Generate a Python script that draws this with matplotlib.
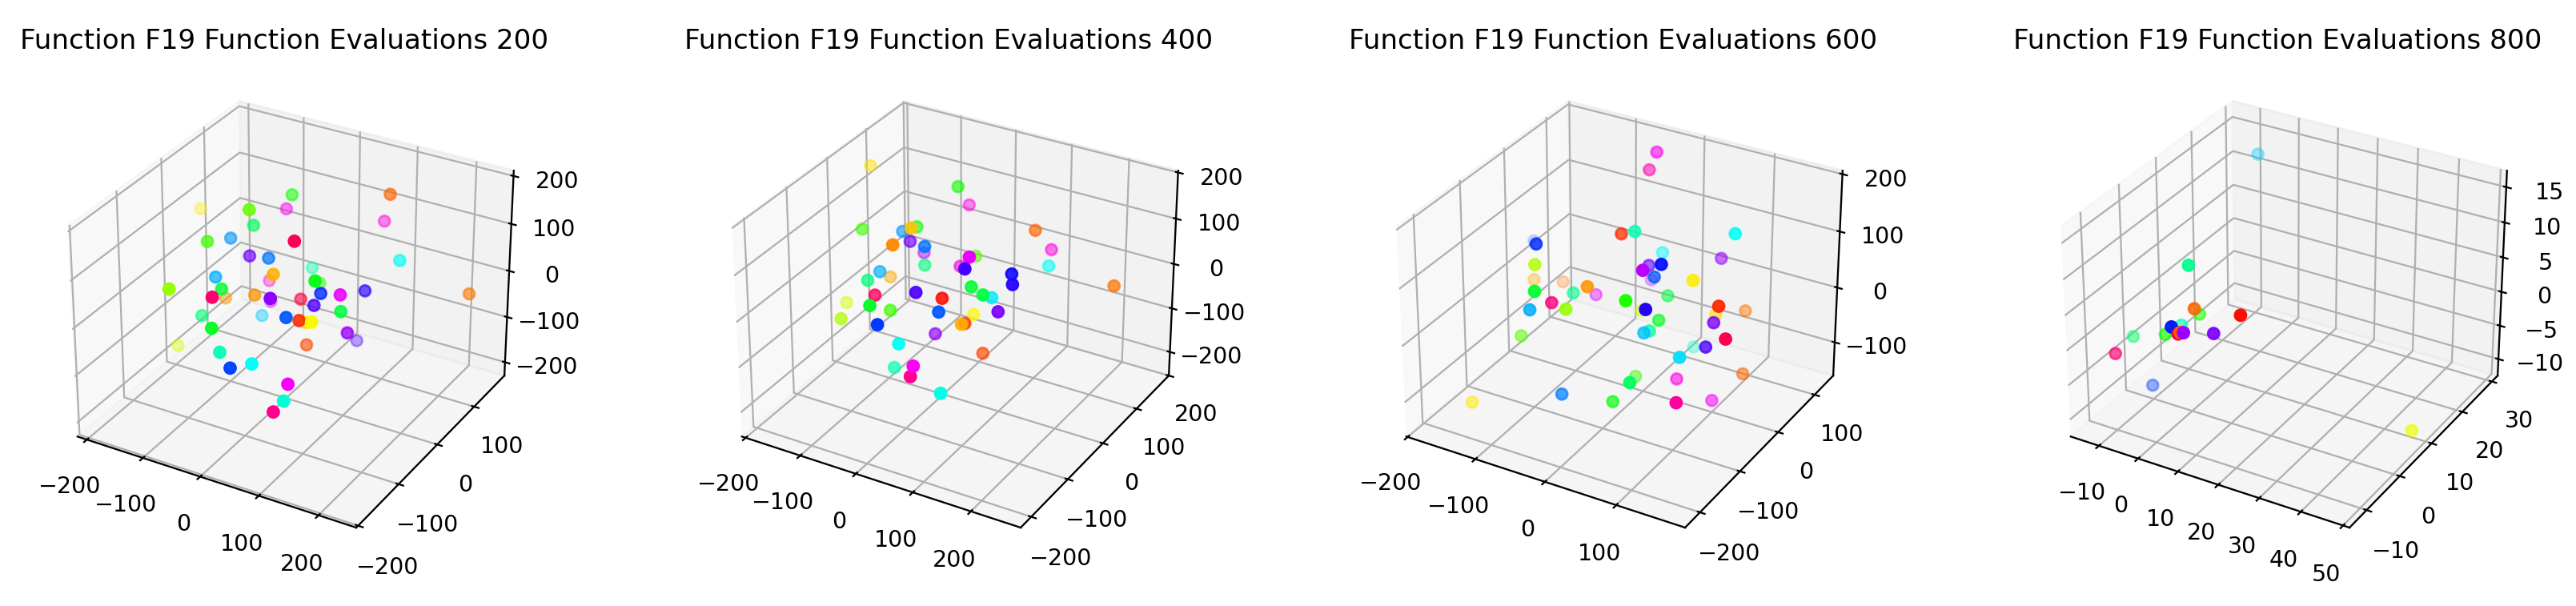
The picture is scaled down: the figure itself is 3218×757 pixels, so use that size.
import numpy as np
import matplotlib
matplotlib.use("Agg")
import matplotlib.pyplot as plt

WIDTH, HEIGHT, DPI = 3218, 757, 205

EVALUATIONS = [200, 400, 600, 800]

x_200 = [-177, -43, -53, -63, 107, 98, -60, -90, -76, 88, -37, 11, 183, -1, 71, -84, 152, 36, -39, -46, -13, 26, -102, 14, 121, -80, 52, 137, 183, 161, 234, 133, 195, -64,
         -88, 8, 127, 129, 103, 187, 189, 82, 81, -151, 24, 54, 90, 149, 142, 125]
y_200 = [37, -27, 90, 90, 104, 104, 6, -8, -80, -103, -35, -56, 14, 67, -128, 76, -146, 33, -111, -204, -132, -204, -6, -93, -204, 74, -37, -111, -132, -39, 121, -121, -148,
         30, -80, -183, -177, -150, -97, -204, -123, 61, -64, -56, -187, -204, -204, -204, -204, -204]
z_200 = [92, 178, 125, 92, 168, 109, 117, 90, 139, 211, 90, 117, 120, 3, 157, -60, 185, 8, 101, 143, 101, 152, -43, 69, 183, -103, 32, 129, 158, 89, -11, 111, 141, -95, -20,
         67, 127, 101, 47, 160, 77, -121, -33, -126, 27, 19, 41, 22, -15, -44]
hue_200 = [.16, .27, .33, .85, .07, .87, .4, .58, .3, .96, .75, .6, .5, .45, .12, .88, .35, .3, .56, .24, .37, .94, .1, .1, .77, .82, .97, .65, .83, .7, .08, .73, .38, .54,
           .42, .36, .62, .03, .15, .17, .78, .72, .05, .2, .46, .63, .5, .84, .48, .92]
alpha_200 = [.5, .9, .65, .6, .75, .6, .75, .7, .8, 1, .75, .8, .75, .55, .9, .5, .95, .6, .8, 1, .85, 1, .6, .8, 1, .5, .7, .85, .9, .75, .7, .85, .9, .55,
             .7, .95, .95, .9, .8, 1, .85, .5, .7, .55, .95, 1, 1, 1, 1, 1]

x_400 = [-175, -34, -21, -109, -61, -7, -78, 134, 11, -43, 19, -63, 152, 55, 142, 172, -16, 40, 153, -42, -88, -38, 187, 218, 254, 150, 88, -12, 194, 170, 111, -122, 14, -11,
         126, 105, 224, -73, 43, 132, 146, 53, 64, 138, 8, 103, 98, 149]
y_400 = [65, 92, 103, -50, 22, -71, 9, 43, -143, -22, -75, 43, 60, 5, -145, 20, -24, -14, -173, -101, -10, -137, -105, -152, 71, -152, -198, -156, -190, -130, -167, -75, -205,
         -120, -198, -77, -198, -156, -228, -141, -171, -99, -207, -103, -139, -228, -228, -228]
z_400 = [154, 136, 93, 112, 85, 163, 78, 129, 182, 89, 135, 13, 82, 72, 203, 81, 48, 58, 202, 78, -13, 86, 156, 178, 31, 149, 148, 77, 175, 118, 122, -36, 99, 19, 121, 21,
         157, 4, 86, 58, 83, -24, 38, -32, -85, 21, -3, -19]
hue_400 = [.15, .33, .86, .3, .33, .13, .58, .07, .09, .75, .6, .8, .87, .28, .83, .5, .42, .87, .72, .56, .11, .42, .68, .7, .08, .37, .73, .95, .38, .52, .01, .2, .36, .3,
           .62, .17, .76, .22, .64, .04, .12, .77, .5, .05, .46, .85, .92, .49]
alpha_400 = [.6, .7, .6, .7, .7, .9, .7, .75, .95, .75, .85, .6, .65, .7, 1, .7, .7, .7, 1, .75, .6, .8, .9, .95, .8, .9, .95, .85, .95, .85, .9, .6, .95, .8,
             .95, .75, .95, .8, 1, .85, .9, .75, .95, .75, .75, 1, 1, 1]

x_600 = [-47, -48, 16, -7, 140, -72, -202, 10, 99, -52, 103, 25, 104, 68, -47, -147, -168, 140, 28, -23, -60, -78, 53, -33, 113, 181, 120, 139, 5, -43, 0, 119, 78, 156, 84,
         92, -115, 193, 44, 155, 171, 113, 143, 39, 108, -6, 54, 180, 141, -138]
y_600 = [114, 97, -49, -42, -24, -133, 65, 30, 19, -168, -137, -30, -182, -92, 102, -22, 81, -127, -180, -215, -69, 15, -32, -162, -236, -139, 46, -236, -14, -195, -183, -30,
         -98, -104, -131, -158, -104, -143, 52, -121, -213, -115, -1, -86, -218, -185, -166, -236, -77, -183]
z_600 = [184, 162, 160, 144, 183, 159, 2, 74, 101, 152, 187, 93, 205, 126, -39, 3, -72, 167, 150, 146, 39, -23, 51, 90, 192, 146, -1, 187, -4, 95, 104, 40, 59, 87, 64, 81,
         -35, 98, -98, 56, 105, -19, -75, -62, 42, -44, -47, 48, -72, -111]
hue_600 = [.85, .9, .46, .03, .5, .65, .62, .51, .78, .22, .67, .74, .8, .62, .8, .12, .08, .16, .1, .37, .43, .83, .38, .93, .32, .03, .08, .7, .2, .56, .24, .15, .36, .76,
           .44, .55, .28, .96, .47, .73, .53, .86, .07, .3, .4, .59, .34, .91, .84, .16]
alpha_600 = [.7, .65, .85, .8, .9, .85, .3, .6, .65, .85, .95, .7, 1, .8, .4, .5, .4, .9, .9, .95, .7, .55, .65, .85, 1, .95, .6, 1, .6, .9, .9, .7, .75, .85,
             .8, .85, .65, 1, .45, .85, .95, .7, .65, .6, .95, .8, .75, 1, .65, .65]

x_800 = [-7.2, 11.6, 10.4, 1.9, 25.9, -0.6, 9.3, -1.2, 12.2, 10.9, 11.4, 17.1, -9.9, -9.3, -6.8, 49.3]
y_800 = [28.0, -12.7, -10.1, 0.5, -15.0, -1.8, -15.0, -5.6, -15.0, -15.0, -15.0, -12.4, -5.1, -10.5, -3.5, 6.4]
z_800 = [12.5, 15.7, 8.5, 1.8, 12.3, 0.8, 7.9, 1.0, 7.6, 7.2, 7.5, 7.2, -1.0, -1.0, -8.3, -9.3]
hue_800 = [.54, .43, .07, .32, .01, .46, .66, .33, .78, .98, .06, .76, .41, .94, .63, .18]
alpha_800 = [.5, .95, .9, .7, 1, .7, 1, .75, 1, 1, 1, .95, .6, .75, .55, .75]

X_VALUES = [x_200, x_400, x_600, x_800]
Y_VALUES = [y_200, y_400, y_600, y_800]
Z_VALUES = [z_200, z_400, z_600, z_800]
HUES = [hue_200, hue_400, hue_600, hue_800]
ALPHAS = [alpha_200, alpha_400, alpha_600, alpha_800]

X_LIMS = [(-217, 262), (-207, 284), (-202, 194), (-17.3, 51.5)]
Y_LIMS = [(-204.5, 185.5), (-228, 196), (-236, 153), (-15, 32)]
Z_LIMS = [(-230, 211), (-255, 204), (-162, 206), (-12.5, 17.3)]
X_TICKS = [[-200, -100, 0, 100, 200], [-200, -100, 0, 100, 200], [-200, -100, 0, 100], [-10, 0, 10, 20, 30, 40, 50]]
Y_TICKS = [[-200, -100, 0, 100], [-200, -100, 0, 100, 200], [-200, -100, 0, 100], [-10, 0, 10, 20, 30]]
Z_TICKS = [[-200, -100, 0, 100, 200], [-200, -100, 0, 100, 200], [-100, 0, 100, 200], [-10, -5, 0, 5, 10, 15]]

SIDE = 620
figure = plt.figure(figsize=(WIDTH / DPI, HEIGHT / DPI), dpi=DPI)
for index, evaluations in enumerate(EVALUATIONS):
    axis = figure.add_axes([(50 + 830 * index) / WIDTH, 58.8 / HEIGHT, SIDE / WIDTH, SIDE / HEIGHT], projection="3d")
    colors = plt.cm.hsv(np.array(HUES[index]))
    # the reference's depth shading fades mid-depth points harder than a linear scale
    colors[:, 3] = np.array(ALPHAS[index]) ** 1.5
    axis.scatter(X_VALUES[index], Y_VALUES[index], Z_VALUES[index], c=colors, s=24, depthshade=False)
    axis.set_xlim(*X_LIMS[index])
    axis.set_ylim(*Y_LIMS[index])
    axis.set_zlim(*Z_LIMS[index])
    axis.set_xticks(X_TICKS[index])
    axis.set_yticks(Y_TICKS[index])
    axis.set_zticks(Z_TICKS[index])
    axis.set_title(f"Function F19 Function Evaluations {evaluations}")
    axis.title.set_position((0.492, 1.055))

figure.savefig("out.png", dpi=DPI)
plt.close(figure)
